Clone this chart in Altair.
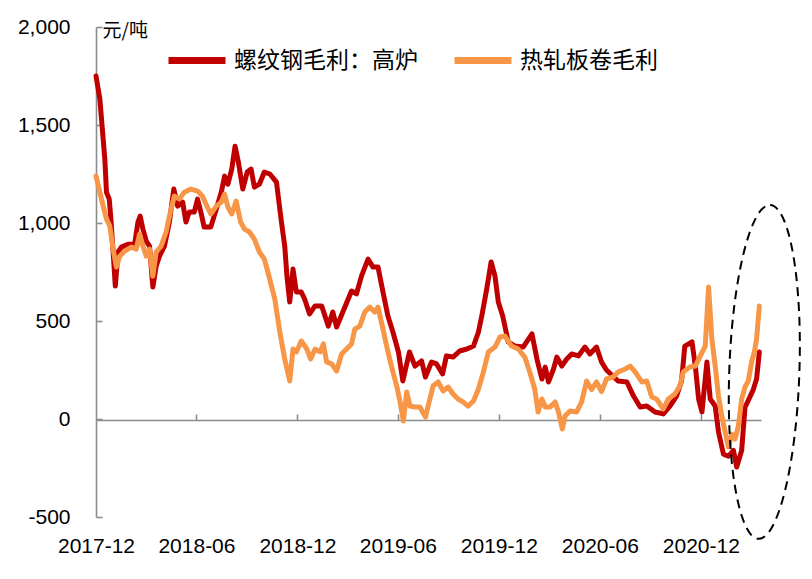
import altair as alt
import pandas as pd

# ---------------- data ----------------
rebar_dates = [
    "2017-12-01", "2017-12-08", "2017-12-12", "2017-12-17", "2017-12-20", "2017-12-25", "2017-12-28",
    "2018-01-01", "2018-01-05", "2018-01-10", "2018-01-16", "2018-01-28", "2018-02-09", "2018-02-15",
    "2018-02-19", "2018-02-24", "2018-03-02", "2018-03-08", "2018-03-14", "2018-03-20", "2018-03-26",
    "2018-04-04", "2018-04-13", "2018-04-21", "2018-04-28", "2018-05-07", "2018-05-13", "2018-05-19",
    "2018-05-28", "2018-06-03", "2018-06-09", "2018-06-15", "2018-06-27", "2018-07-07", "2018-07-16",
    "2018-07-22", "2018-07-28", "2018-08-04", "2018-08-10", "2018-08-16", "2018-08-24", "2018-09-01",
    "2018-09-08", "2018-09-14", "2018-09-23", "2018-10-02", "2018-10-12", "2018-10-24", "2018-11-02",
    "2018-11-08", "2018-11-12", "2018-11-17", "2018-11-23", "2018-11-29", "2018-12-08", "2018-12-14",
    "2018-12-23", "2019-01-02", "2019-01-14", "2019-01-26", "2019-02-03", "2019-02-10", "2019-02-22",
    "2019-03-09", "2019-03-18", "2019-03-27", "2019-04-08", "2019-04-17", "2019-04-26", "2019-05-05",
    "2019-05-14", "2019-05-23", "2019-06-02", "2019-06-10", "2019-06-22", "2019-07-02", "2019-07-14",
    "2019-07-21", "2019-08-01", "2019-08-10", "2019-08-21", "2019-08-28", "2019-09-09", "2019-09-21",
    "2019-10-04", "2019-10-16", "2019-10-25", "2019-10-31", "2019-11-09", "2019-11-17", "2019-11-24",
    "2019-11-30", "2019-12-08", "2019-12-18", "2019-12-30", "2020-01-14", "2020-01-30", "2020-02-08",
    "2020-02-17", "2020-02-23", "2020-02-29", "2020-03-09", "2020-03-15", "2020-03-24", "2020-04-02",
    "2020-04-11", "2020-04-23", "2020-05-05", "2020-05-14", "2020-05-26", "2020-06-04", "2020-06-13",
    "2020-07-04", "2020-07-20", "2020-08-01", "2020-08-13", "2020-08-25", "2020-09-09", "2020-09-24",
    "2020-10-06", "2020-10-18", "2020-10-27", "2020-11-02", "2020-11-15", "2020-11-21", "2020-11-27",
    "2020-12-03", "2020-12-12", "2020-12-18", "2020-12-27", "2021-01-02", "2021-01-11", "2021-01-20",
    "2021-01-29", "2021-02-04", "2021-02-13", "2021-02-19", "2021-02-25", "2021-03-06", "2021-03-12",
    "2021-03-17",
]
rebar_values = [
    1750, 1632, 1496, 1326, 1157, 1122, 1020,
    852, 678, 852, 877, 892, 892, 1005,
    1035, 969, 908, 882, 673, 780, 831,
    882, 1005, 1173, 1086, 1107, 1005, 1056,
    1056, 1122, 1056, 979, 979, 1071, 1157,
    1239, 1198, 1275, 1392, 1311, 1173, 1260,
    1275, 1183, 1198, 1260, 1250, 1209, 1005,
    882, 729, 597, 765, 648, 648, 612,
    536, 577, 577, 474, 546, 469, 551,
    653, 638, 729, 816, 775, 775, 648,
    525, 444, 342, 194, 342, 270, 296,
    214, 291, 281, 230, 322, 316, 347,
    357, 372, 444, 525, 663, 801, 729,
    597, 525, 393, 372, 367, 434, 306,
    204, 265, 189, 255, 316, 270, 306,
    332, 322, 367, 332, 367, 291, 250,
    194, 189, 117, 61, 66, 36, 26,
    66, 117, 194, 372, 393, 270, 102,
    36, 291, 102, 66, -66, -180, -190,
    -160, -245, -160, 60, 95, 150, 204,
    342,
]

hrc_dates = [
    "2017-12-01", "2017-12-08", "2017-12-14", "2017-12-20", "2017-12-26", "2018-01-01", "2018-01-07",
    "2018-01-13", "2018-01-22", "2018-02-03", "2018-02-12", "2018-02-18", "2018-02-24", "2018-03-02",
    "2018-03-08", "2018-03-14", "2018-03-20", "2018-03-29", "2018-04-07", "2018-04-13", "2018-04-22",
    "2018-05-01", "2018-05-10", "2018-05-22", "2018-06-03", "2018-06-12", "2018-06-20", "2018-06-27",
    "2018-07-07", "2018-07-16", "2018-07-22", "2018-07-28", "2018-08-04", "2018-08-12", "2018-08-20",
    "2018-08-27", "2018-09-05", "2018-09-14", "2018-09-23", "2018-10-02", "2018-10-08", "2018-10-21",
    "2018-10-30", "2018-11-08", "2018-11-17", "2018-11-23", "2018-11-29", "2018-12-08", "2018-12-18",
    "2018-12-25", "2019-01-02", "2019-01-11", "2019-01-17", "2019-01-23", "2019-02-01", "2019-02-10",
    "2019-02-19", "2019-02-28", "2019-03-09", "2019-03-15", "2019-03-24", "2019-04-02", "2019-04-11",
    "2019-04-20", "2019-04-26", "2019-05-05", "2019-05-14", "2019-05-23", "2019-05-30", "2019-06-05",
    "2019-06-11", "2019-06-17", "2019-06-23", "2019-07-02", "2019-07-11", "2019-07-21", "2019-07-29",
    "2019-08-04", "2019-08-13", "2019-08-22", "2019-08-31", "2019-09-09", "2019-09-18", "2019-09-27",
    "2019-10-06", "2019-10-16", "2019-10-25", "2019-11-03", "2019-11-12", "2019-11-24", "2019-12-03",
    "2019-12-12", "2019-12-24", "2020-01-05", "2020-01-17", "2020-01-26", "2020-02-04", "2020-02-10",
    "2020-02-17", "2020-02-23", "2020-03-03", "2020-03-12", "2020-03-18", "2020-03-25", "2020-03-30",
    "2020-04-08", "2020-04-20", "2020-04-29", "2020-05-08", "2020-05-17", "2020-05-26", "2020-06-04",
    "2020-06-13", "2020-06-25", "2020-07-04", "2020-07-17", "2020-07-26", "2020-08-04", "2020-08-16",
    "2020-08-25", "2020-09-03", "2020-09-12", "2020-09-24", "2020-10-03", "2020-10-15", "2020-10-24",
    "2020-10-30", "2020-11-11", "2020-11-21", "2020-11-30", "2020-12-09", "2020-12-15", "2020-12-21",
    "2020-12-27", "2021-01-02", "2021-01-08", "2021-01-14", "2021-01-20", "2021-01-26", "2021-02-01",
    "2021-02-07", "2021-02-13", "2021-02-19", "2021-02-25", "2021-03-03", "2021-03-08", "2021-03-12",
    "2021-03-17",
]
hrc_values = [
    1240, 1157, 1086, 1020, 985, 867, 775,
    831, 857, 877, 867, 944, 882, 831,
    867, 729, 852, 882, 954, 1035, 1137,
    1122, 1157, 1173, 1163, 1137, 1086, 1046,
    1086, 1107, 1148, 1081, 1046, 1112, 1005,
    969, 954, 918, 852, 816, 755, 612,
    444, 306, 194, 357, 342, 398, 357,
    306, 357, 342, 383, 291, 281, 245,
    332, 357, 383, 459, 474, 546, 571,
    546, 571, 459, 342, 240, 168, 87,
    -10, 138, 66, 61, 61, 10, 102,
    170, 189, 143, 163, 128, 102, 87,
    66, 92, 153, 240, 342, 367, 418,
    423, 372, 357, 316, 240, 153, 36,
    102, 61, 61, 87, 36, -51, 15,
    41, 36, 87, 194, 150, 189, 140,
    204, 214, 240, 255, 270, 240, 189,
    194, 112, 102, 51, 102, 128, 168,
    240, 265, 270, 322, 372, 673, 408,
    270, 117, 15, -66, -143, -77, -102,
    -36, 102, 163, 194, 291, 342, 408,
    576,
]

series_names = ["螺纹钢毛利：高炉", "热轧板卷毛利"]
series_colors = ["#C00000", "#F79646"]
x_tick_dates = [(2017, 12), (2018, 6), (2018, 12), (2019, 6), (2019, 12), (2020, 6), (2020, 12)]
y_ticks = [-500, 0, 500, 1000, 1500, 2000]
unit_label = "元/吨"

# highlighted region (dashed ellipse) centre, in data units
highlight_date = ["2021-03-26"]
highlight_value = [240]

# ---------------- build tables ----------------
df = pd.concat([
    pd.DataFrame({"date": rebar_dates, "value": rebar_values, "series": series_names[0]}),
    pd.DataFrame({"date": hrc_dates, "value": hrc_values, "series": series_names[1]}),
], ignore_index=True)
hl = pd.DataFrame({"date": highlight_date, "value": highlight_value})

W, H = 665, 490
x_domain = [alt.DateTime(year=2017, month=12, date=1, utc=True),
            alt.DateTime(year=2021, month=3, date=20, utc=True)]
x_vals = [alt.DateTime(year=y, month=m, date=1, utc=True) for y, m in x_tick_dates]
x_scale = alt.Scale(type="utc", domain=x_domain)
y_scale = alt.Scale(domain=[-500, 2000], nice=False, zero=False)
color_scale = alt.Scale(domain=series_names, range=series_colors)

GRAY = "#8C8C8C"
NUM_FONT = "Liberation Sans"
CJK_FONT = "Noto Sans CJK SC"

x_label_axis = alt.Axis(
    orient="bottom", values=x_vals, format="%Y-%m", domain=False, ticks=False, tickSize=0,
    grid=False, labelPadding=18, labelFont=NUM_FONT, labelFontSize=21, labelColor="black",
    labelOverlap=False, labelFlush=False, labelBound=False, title=None,
)
y_label_axis = alt.Axis(
    orient="left", values=y_ticks, domain=True, domainColor=GRAY, domainWidth=1.6,
    ticks=False, tickSize=0, grid=False, labelPadding=26, labelFont=NUM_FONT,
    labelFontSize=21, labelColor="black", labelFlush=False,
    labelExpr="datum.value < 0 ? '-' + format(-datum.value, ',') : format(datum.value, ',')",
    title=unit_label, titleAngle=0, titleX=6, titleY=-6, titleAlign="left",
    titleBaseline="top", titleFont=CJK_FONT, titleFontSize=19, titleFontWeight="normal",
    titleColor="black",
)

legend = alt.Legend(
    orient="none", legendX=69, legendY=1.5, direction="horizontal", title=None,
    symbolType="stroke", symbolSize=3249, symbolStrokeWidth=7, labelFont=CJK_FONT,
    labelFontSize=23, labelLimit=400, labelOffset=5, columnPadding=22, padding=0,
    labelColor="black",
)


def line_layer(name):
    return alt.Chart(df).transform_filter(alt.datum.series == name).mark_line(
        strokeWidth=5, strokeJoin="round", strokeCap="round"
    ).encode(
        x=alt.X("date:T", scale=x_scale, axis=x_label_axis),
        y=alt.Y("value:Q", scale=y_scale, axis=y_label_axis),
        color=alt.Color("series:N", scale=color_scale, legend=legend),
    )


lines = alt.layer(line_layer(series_names[0]), line_layer(series_names[1]))

ellipse_path = "M0,-1A0.21,1,0,1,1,0,1A0.21,1,0,1,1,0,-1Z"
ellipse = alt.Chart(hl).mark_point(
    shape=ellipse_path, size=111556, filled=False, stroke="black", strokeWidth=2,
    strokeDash=[9, 6], angle=2, opacity=1,
).encode(
    x=alt.X("date:T", scale=x_scale, axis=alt.Axis(
        orient="top", offset=-393, values=x_vals[1:], domain=True, domainColor=GRAY,
        domainWidth=1.6, ticks=True, tickSize=6, tickColor=GRAY, tickWidth=1.6,
        labels=False, grid=False, title=None)),
    y=alt.Y("value:Q", scale=y_scale, axis=alt.Axis(
        orient="right", offset=-W, values=y_ticks, domain=False, ticks=True, tickSize=6,
        tickColor=GRAY, tickWidth=1.6, labels=False, grid=False, title=None)),
)

chart = alt.layer(lines, ellipse).resolve_axis(x="independent", y="independent").properties(
    width=W, height=H, autosize=alt.AutoSizeParams(type="none"),
    padding={"left": 88, "top": 19, "right": 43, "bottom": 54},
    background="white",
).configure_view(stroke=None)

chart.save("out.html", embed_options={"renderer": "svg", "actions": False})
